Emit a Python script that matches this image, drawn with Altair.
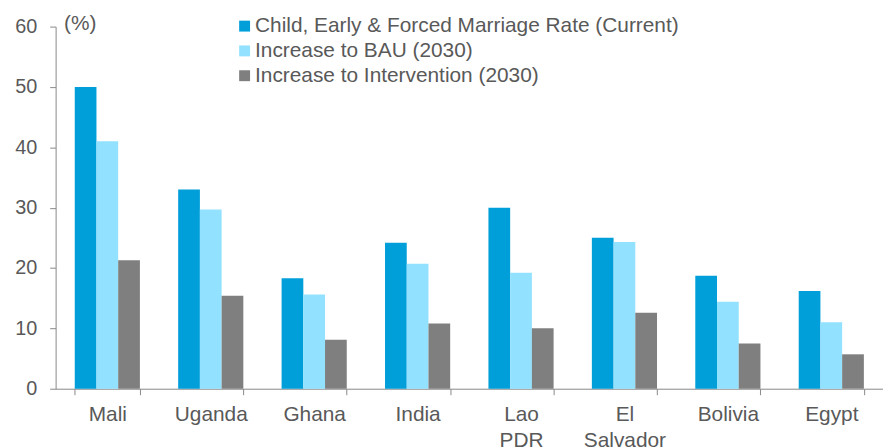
import altair as alt
import pandas as pd

countries = ["Mali", "Uganda", "Ghana", "India", "Lao PDR", "El Salvador", "Bolivia", "Egypt"]
series = [
    "Child, Early & Forced Marriage Rate (Current)",
    "Increase to BAU (2030)",
    "Increase to Intervention (2030)",
]
current = [50.0, 33.0, 18.3, 24.2, 30.0, 25.0, 18.7, 16.2]
bau = [41.0, 29.7, 15.6, 20.7, 19.2, 24.3, 14.4, 11.0]
intervention = [21.3, 15.4, 8.1, 10.8, 10.0, 12.6, 7.5, 5.7]
colors = ["#009fda", "#91e1ff", "#7f7f7f"]

rows = []
for s, vals in zip(series, [current, bau, intervention]):
    for c, v in zip(countries, vals):
        rows.append({"country": c, "series": s, "value": v})
df = pd.DataFrame(rows)

FONT = "Liberation Sans"
TXT = "#595959"
AX = "#888888"

chart = alt.Chart(df).mark_bar().encode(
    x=alt.X("country:N", sort=countries,
            scale=alt.Scale(paddingInner=0.37, paddingOuter=0.185),
            axis=alt.Axis(title=None, labelAngle=0, tickBand="extent", tickSize=6,
                          labelPadding=9, labelFontSize=21, labelColor=TXT,
                          labelFont=FONT, domainColor=AX, tickColor=AX,
                          labelExpr="split(datum.label, ' ')", labelLineHeight=26,
                          labelBaseline="top")),
    xOffset=alt.XOffset("series:N", sort=series,
                        scale=alt.Scale(paddingInner=0, paddingOuter=0)),
    y=alt.Y("value:Q", scale=alt.Scale(domain=[0, 60], nice=False),
            axis=alt.Axis(title="(%)", titleAngle=0, titleAlign="left", titleX=8, titleY=-3,
                          titleBaseline="middle", titleFont=FONT, titleFontSize=21,
                          titleFontWeight="normal", titleColor=TXT,
                          values=[0, 10, 20, 30, 40, 50, 60], grid=False, tickSize=6,
                          labelPadding=13, labelFontSize=20, labelColor=TXT,
                          labelFont=FONT, domainColor=AX, tickColor=AX)),
    color=alt.Color("series:N", sort=series,
                    scale=alt.Scale(domain=series, range=colors),
                    legend=alt.Legend(title=None, orient="none", legendX=180, legendY=-11,
                                      symbolType="square", symbolSize=121,
                                      symbolStrokeWidth=0, labelFontSize=21,
                                      labelFont=FONT, labelColor=TXT, rowPadding=3,
                                      labelOffset=0, padding=0, labelLimit=700)),
).properties(
    width=834, height=365,
    padding={"left": 48, "top": 17, "right": 0, "bottom": 57},
    autosize=alt.AutoSizeParams(type="none"),
).configure_view(stroke=None)

chart.save("out.html", embed_options={"renderer": "svg", "actions": False})
